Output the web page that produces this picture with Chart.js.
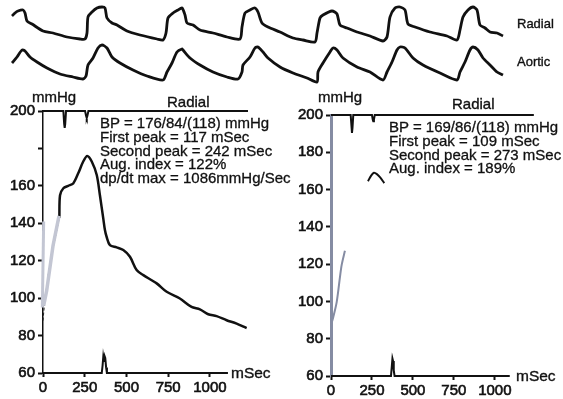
<!DOCTYPE html>
<html>
<head>
<meta charset="utf-8">
<script src="https://cdn.jsdelivr.net/npm/chart.js@4.4.1/dist/chart.umd.min.js"></script>
<style>
	html, body { margin: 0; padding: 0; background: #fff; }
	#wrap { position: relative; width: 563px; height: 399px; overflow: hidden; font-family: "Liberation Sans", Arial, sans-serif; color: #111; }
	#wrap canvas { position: absolute; left: 0; top: 0; }
	.lbl { position: absolute; white-space: nowrap; line-height: 14px; font-size: 15px; -webkit-text-stroke: 0.35px #111; }
	.note { position: absolute; white-space: nowrap; font-size: 15px; line-height: 13.8px; -webkit-text-stroke: 0.3px #111; }
</style>
</head>
<body>
<div id="wrap">
	<canvas id="traceChart" width="563" height="399"></canvas>
	<canvas id="leftChart" width="563" height="399"></canvas>
	<canvas id="rightChart" width="563" height="399"></canvas>

	<div class="lbl" style="left:517px; top:17px; font-size:13px;">Radial</div>
	<div class="lbl" style="left:517px; top:55px; font-size:13px;">Aortic</div>

	<div class="lbl" style="left:32px; top:90px;">mmHg</div>
	<div class="lbl" style="left:167px; top:95px;">Radial</div>
	<div class="note" style="left:100px; top:116px;">
		BP = 176/84/(118) mmHg<br>
		First peak = 117 mSec<br>
		Second peak = 242 mSec<br>
		Aug. index = 122%<br>
		dp/dt max = 1086mmHg/Sec
	</div>
	<div class="lbl" style="left:231px; top:366px; font-size:15.5px;">mSec</div>

	<div class="lbl" style="left:318px; top:90px;">mmHg</div>
	<div class="lbl" style="left:452px; top:97px;">Radial</div>
	<div class="note" style="left:389px; top:120px;">
		BP = 169/86/(118) mmHg<br>
		First peak = 109 mSec<br>
		Second peak = 273 mSec<br>
		Aug. index = 189%
	</div>
	<div class="lbl" style="left:516px; top:369px; font-size:15.5px;">mSec</div>
</div>

<script>
// continuous tracings, strip units (time, level)
var radialTrace = [
	[12,74],[15,77],[18,79],[23,80],[25,77],[27,69],[32,66],[43,59],[53,57],[67,53],[80,51],[85,51],
	[87,57],[88,73],[92,78],[97,82],[102,83],[105,82],[107,72],[112,67],[117,65],[127,59],[140,55],[157,51],[163,50],
	[166,57],[168,72],[173,77],[178,80],[182,82],[185,75],[187,67],[193,65],[200,60],[213,57],[227,53],[240,51],
	[242,63],[245,77],[250,80],[255,82],[258,78],[262,67],[268,63],[280,58],[293,52],[303,50],[315,48],
	[317,57],[320,72],[323,75],[332,79],[337,76],[340,65],[347,62],[357,58],[370,54],[383,49],
	[387,53],[390,73],[395,82],[400,83],[405,80],[408,66],[415,63],[430,58],[447,54],[457,50],
	[460,60],[463,73],[468,80],[473,83],[477,80],[480,65],[485,62],[490,58],[497,57],[503,54]
];
var aorticTrace = [
	[12,27],[17,33],[22,40],[25,39],[30,33],[37,28],[47,22],[60,16],[73,13],[83,11],
	[86,14],[88,25],[93,32],[98,42],[102,45],[107,42],[112,33],[120,27],[133,20],[147,14],[163,10],
	[167,18],[172,27],[177,38],[182,41],[183,40],[190,32],[200,25],[213,18],[227,13],[238,11],
	[242,18],[243,25],[250,33],[255,42],[258,43],[263,38],[268,32],[280,23],[293,17],[307,12],[317,8],
	[318,18],[323,27],[330,38],[333,42],[337,40],[343,32],[357,23],[370,18],[383,10],
	[387,18],[392,28],[397,40],[400,43],[405,42],[413,32],[423,25],[440,17],[457,10],
	[460,18],[465,28],[470,40],[473,43],[478,40],[483,32],[490,25],[497,18],[503,15]
];

// averaged radial pulse, left panel (mSec, mmHg)
var leftPulse = [
	[98,143],[102,155],[122,158.7],[151,160],[181,161.3],[211,166.7],[241,173],[265,176],[292,173],
	[322,165.8],[341,155],[361,142.6],[371,136.4],[381,132.8],[401,128.3],[441,127.1],[481,125.7],
	[521,122.1],[561,115],[601,112.3],[681,107.9],[741,103.4],[820,99.8],[890,95.3],[940,94],
	[990,91.4],[1040,90.4],[1100,88.2],[1160,86.4],[1220,84]
];
var leftUpstroke = [[0,88],[10,98],[40,118],[82,136],[98,143]];
var leftUpstrokeShade = [[4,96],[22,104],[60,128],[96,144]];
var leftAxisShade = [[-4,95],[4,141]];
var leftTopMarker = [[0,200],[122,200],[127,193],[130,191],[133,193],[138,200],[252,200],[258,197.5],[262,196.3],[266,197.5],[272,200],[1228,200]];
var leftBottomMarker = [[0,60],[352,60],[357,64],[361,68.5],[365,66],[369,69],[373,68],[378,63],[383,60],[1108,60]];

// right panel (mSec, mmHg)
var rightUpstroke = [[0,87.3],[14,91.7],[35,99.8],[55,113.3],[65,119.5],[85,127.2]];
var rightPeak = [[226,164.5],[245,167.5],[262,169],[280,168.3],[300,166.5],[325,163.5]];
var rightTopMarker = [[0,200],[120,200],[126,193],[128,190.4],[131,193],[136,200],[250,200],[255,197.5],[258,196.7],[262,197.5],[267,200],[1238,200]];
var rightBottomMarker = [[0,60],[366,60],[371,65],[375,69.4],[379,68],[383,63],[388,60],[1091,60]];

var yTicks = [60, 80, 100, 120, 140, 160, 180, 200];
var xTicks = [0, 250, 500, 750, 1000];

function pts(arr) {
	return arr.map(p => ({x: p[0], y: p[1]}));
}

function line(data, color, width, extra) {
	return Object.assign({
		data: pts(data),
		borderColor: color,
		backgroundColor: color,
		borderWidth: width,
		pointRadius: 0,
		tension: 0,
		fill: false,
		clip: false
	}, extra || {});
}

var tickFont = {family: '"Liberation Sans", Arial, sans-serif', size: 15};

function panelOptions(pad, axisColor, axisWidth, labelFn) {
	return {
		responsive: false,
		animation: false,
		events: [],
		layout: {padding: pad},
		plugins: {legend: {display: false}, tooltip: {enabled: false}, title: {display: false}},
		scales: {
			x: {
				type: 'linear',
				min: 0,
				max: 1300,
				afterBuildTicks: s => { s.ticks = xTicks.map(v => ({value: v})); },
				afterFit: s => { s.height = 22; },
				border: {display: false},
				grid: {drawOnChartArea: false, tickLength: 4, tickWidth: 2, tickColor: '#111'},
				ticks: {font: tickFont, color: '#111', padding: 2, maxRotation: 0, autoSkip: false,
					textStrokeColor: '#111', textStrokeWidth: 0.6, callback: v => String(v)}
			},
			y: {
				type: 'linear',
				min: 60,
				max: 200,
				afterBuildTicks: s => { s.ticks = yTicks.map(v => ({value: v})); },
				afterFit: s => { s.width = 43; },
				border: {display: true, color: axisColor, width: axisWidth},
				grid: {drawOnChartArea: false, tickLength: 5, tickWidth: 2, tickColor: '#111'},
				ticks: {font: tickFont, color: '#111', padding: 3, callback: labelFn,
					textStrokeColor: '#111', textStrokeWidth: 0.6}
			}
		}
	};
}

// top strip: radial and aortic tracings
new Chart(document.getElementById('traceChart'), {
	type: 'line',
	data: {
		datasets: [
			line(radialTrace, '#111', 2.8, {tension: 0.25}),
			line(aorticTrace, '#111', 2.8, {tension: 0.25})
		]
	},
	options: {
		responsive: false,
		animation: false,
		events: [],
		layout: {padding: {left: 0, right: 0, top: 0, bottom: 309}},
		plugins: {legend: {display: false}, tooltip: {enabled: false}},
		scales: {
			x: {type: 'linear', min: 0, max: 563, display: false},
			y: {type: 'linear', min: 0, max: 90, display: false}
		}
	}
});

// left panel
new Chart(document.getElementById('leftChart'), {
	type: 'line',
	data: {
		datasets: [
			line(leftAxisShade, '#c3c6d3', 3),
			line(leftUpstrokeShade, '#c3c6d3', 3.5),
			line(leftUpstroke, '#222', 1, {borderDash: [3, 2]}),
			line(leftPulse, '#111', 2.5, {tension: 0.3}),
			line(leftTopMarker, '#111', 2),
			line(leftBottomMarker, '#111', 2)
		]
	},
	options: panelOptions({left: 0, top: 111, right: 303, bottom: 4}, '#111', 1.5, v => v === 180 ? '' : String(v))
});

// right panel
new Chart(document.getElementById('rightChart'), {
	type: 'line',
	data: {
		datasets: [
			line(rightUpstroke, '#858ca3', 2, {tension: 0.3}),
			line(rightPeak, '#111', 2, {tension: 0.3}),
			line(rightTopMarker, '#111', 2),
			line(rightBottomMarker, '#111', 2)
		]
	},
	options: panelOptions({left: 288, top: 115, right: 19, bottom: 1}, '#858ca3', 3, v => String(v))
});
</script>
</body>
</html>
